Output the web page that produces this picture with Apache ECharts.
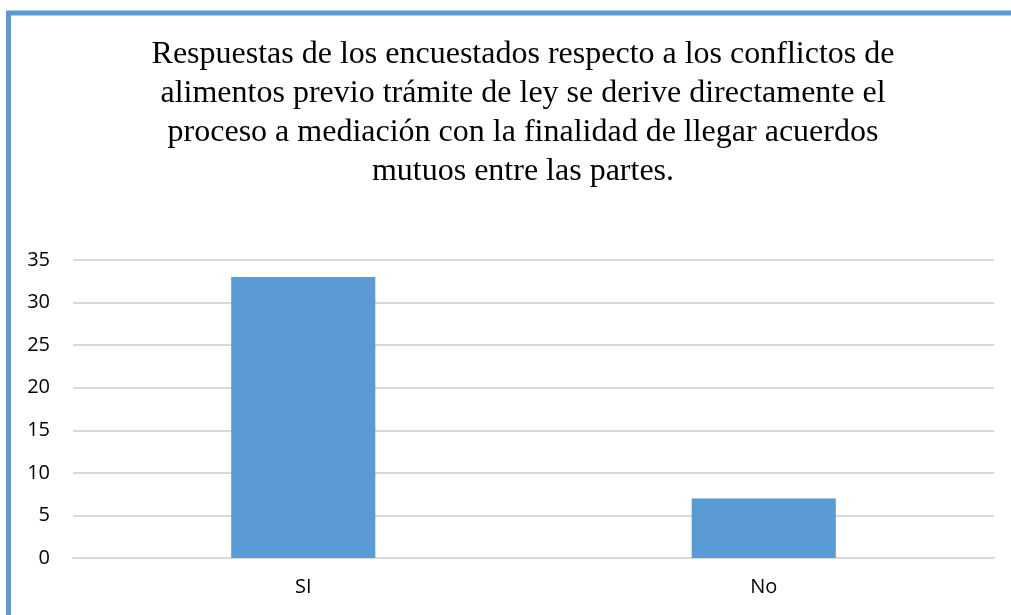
<!DOCTYPE html>
<html>
<head>
<meta charset="utf-8">
<script src="https://cdn.jsdelivr.net/npm/echarts@6/dist/echarts.min.js"></script>
<style>html,body{margin:0;padding:0;background:#fff;}#c{width:1011px;height:615px;}</style>
</head>
<body>
<div id="c"></div>
<script>
const titleLines = [
  'Respuestas de los encuestados respecto a los conflictos de',
  'alimentos previo trámite de ley se derive directamente el',
  'proceso a mediación con la finalidad de llegar acuerdos',
  'mutuos entre las partes.'
];
const categories = ['SI', 'No'];
const values = [33, 7];
const yMax = 35;
const yStep = 5;

const chart = echarts.init(document.getElementById('c'), null, {renderer: 'canvas'});
chart.setOption({
  backgroundColor: '#ffffff',
  animation: false,
  graphic: [{
    type: 'rect',
    shape: {x: 8.5, y: 13, width: 1100, height: 700},
    style: {fill: 'none', stroke: '#5b9bd5', lineWidth: 5},
    silent: true
  }],
  title: {
    text: titleLines.join('\n'),
    left: 518,
    textAlign: 'center',
    top: 30,
    textStyle: {
      fontFamily: 'Liberation Serif',
      fontSize: 32,
      fontWeight: 'normal',
      color: '#000',
      lineHeight: 39
    }
  },
  grid: {left: 73, right: 17, top: 260, bottom: 57, containLabel: false},
  xAxis: {
    type: 'category',
    data: categories,
    axisLine: {show: true, lineStyle: {color: '#d9d9d9', width: 2}},
    axisTick: {show: false},
    axisLabel: {fontFamily: 'Open Sans', fontSize: 20, color: '#000', margin: 19}
  },
  yAxis: {
    type: 'value',
    min: 0,
    max: yMax,
    interval: yStep,
    axisLine: {show: false},
    axisTick: {show: false},
    splitLine: {lineStyle: {color: '#d9d9d9', width: 2}},
    axisLabel: {fontFamily: 'Open Sans', fontSize: 20, color: '#000', margin: 23}
  },
  series: [{
    type: 'bar',
    data: values,
    barWidth: '31.3%',
    itemStyle: {color: '#5b9bd5'}
  }]
});
</script>
</body>
</html>
